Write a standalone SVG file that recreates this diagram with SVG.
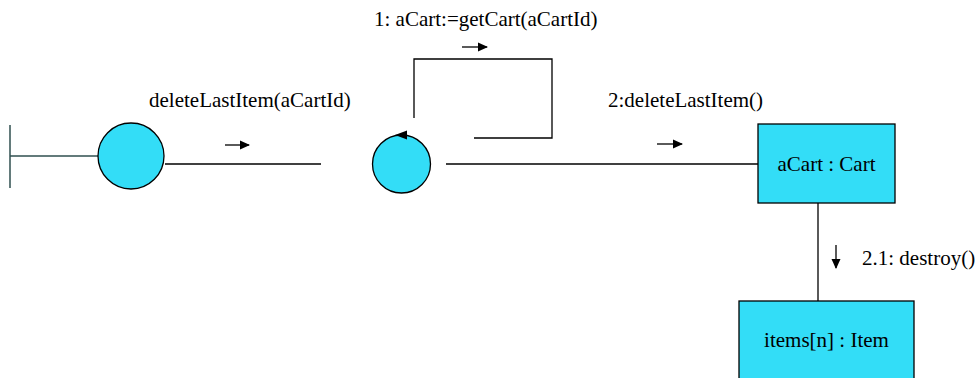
<svg xmlns="http://www.w3.org/2000/svg" width="980" height="378" viewBox="0 0 980 378">
<style>
text{font-family:'Liberation Serif','Times New Roman',serif;font-size:21px;fill:#000}
.n{fill:#33DDF7;stroke:#000;stroke-width:1.3}
.c{stroke:#000;stroke-width:1.3;fill:none}
.a{stroke:#000;stroke-width:1.3;fill:none;marker-end:url(#ah)}
</style>
<defs>
<marker id="ah" viewBox="0 0 10 10" refX="9" refY="5" markerWidth="10" markerHeight="10" markerUnits="userSpaceOnUse" orient="auto">
<path d="M0,0.5 L10,5 L0,9.5 z" fill="#000"/>
</marker>
</defs>
<rect width="980" height="378" fill="#fff"/>
<g id="connectors">
<line x1="98" y1="156" x2="10" y2="156" stroke="#2F4F4F" stroke-width="1.5"/>
<line x1="165" y1="164" x2="321" y2="164" class="c"/>
<path d="M414,118 V59 H552 V138 H474" class="c"/>
<line x1="446" y1="164" x2="758" y2="164" class="c"/>
<line x1="818" y1="203" x2="818" y2="301" class="c"/>
<line x1="225" y1="145" x2="249" y2="145" class="a"/>
<line x1="462" y1="47" x2="487" y2="47" class="a"/>
<line x1="657" y1="144" x2="682" y2="144" class="a"/>
<line x1="836" y1="245" x2="836" y2="268" class="a"/>
<text x="149" y="107">deleteLastItem(aCartId)</text>
<text x="374" y="26">1: aCart:=getCart(aCartId)</text>
<text x="608" y="107">2:deleteLastItem()</text>
<text x="862" y="265">2.1: destroy()</text>
</g>
<g id="boundary">
<line x1="10" y1="125" x2="10" y2="188" stroke="#2F4F4F" stroke-width="1.5"/>
<circle cx="131" cy="156" r="33" class="n"/>
</g>
<g id="control">
<circle cx="401.5" cy="164" r="29" class="n"/>
<path d="M395,135 L407,130.5 L407,139.5 z" fill="#000"/>
</g>
<g id="aCart">
<rect x="758" y="124" width="137" height="79" class="n"/>
<text x="826.5" y="171" text-anchor="middle">aCart : Cart</text>
</g>
<g id="items">
<rect x="739" y="301" width="175" height="90" class="n"/>
<text x="826.5" y="347" text-anchor="middle">items[n] : Item</text>
</g>
</svg>
